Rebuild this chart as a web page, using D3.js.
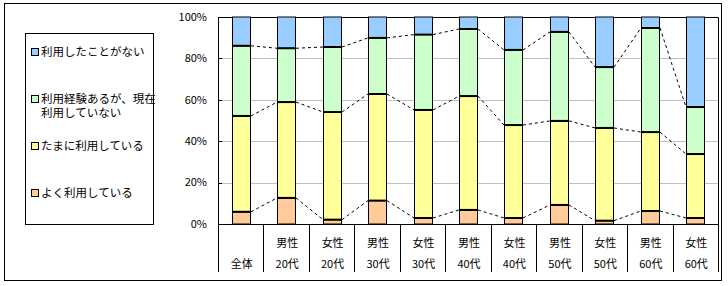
<!DOCTYPE html>
<html>
<head>
<meta charset="utf-8">
<script src="https://cdn.jsdelivr.net/npm/d3@7"></script>
<style>
  body { margin: 0; background: #fff; }
  svg { display: block; font-family: "Noto Sans CJK JP", sans-serif; }
</style>
</head>
<body>
<svg width="728" height="286"></svg>
<script>
// categories: [row1, row2]
var categories = [
  ['', '全体'], ['男性', '20代'], ['女性', '20代'], ['男性', '30代'], ['女性', '30代'],
  ['男性', '40代'], ['女性', '40代'], ['男性', '50代'], ['女性', '50代'], ['男性', '60代'], ['女性', '60代']
];
var seriesNames = ['よく利用している', 'たまに利用している', '利用経験あるが、現在利用していない', '利用したことがない'];
var often = [5.9, 12.6, 2.1, 11.3, 2.9, 6.8, 2.9, 9.2, 1.6, 6.3, 2.9];
var sometimes = [46.3, 46.3, 52.0, 51.5, 52.2, 55.0, 44.9, 40.6, 44.8, 38.1, 30.9];
var usedBefore = [33.9, 26.0, 31.4, 27.1, 36.4, 32.4, 36.3, 43.0, 29.4, 50.3, 22.7];
var never = [13.9, 15.1, 14.5, 10.1, 8.5, 5.8, 15.9, 7.2, 24.2, 5.3, 43.5];
var yTicks = [0, 20, 40, 60, 80, 100];
var colors = ['#FFCC99', '#FFFF99', '#CCFFCC', '#99CCFF'];

var svg = d3.select('svg');

// outer frame
svg.append('rect')
  .attr('x', 4.5).attr('y', 3.5).attr('width', 717).attr('height', 277)
  .attr('fill', '#fff').attr('stroke', '#000');

var plotL = 218, plotR = 718, plotT = 17, plotB = 224;

var x = d3.scaleBand()
  .domain(d3.range(categories.length))
  .range([plotL, plotR]);
var y = d3.scaleLinear().domain([0, 100]).range([plotB, plotT]);
var barW = Math.round(x.bandwidth() * 0.4);
var barX = i => Math.round(x(i) + x.bandwidth() / 2 - barW / 2);

// gridlines
svg.append('g').selectAll('line')
  .data(yTicks.filter(t => t > 0 && t < 100))
  .enter().append('line')
  .attr('x1', plotL).attr('x2', plotR)
  .attr('y1', d => Math.round(y(d)) + 0.5).attr('y2', d => Math.round(y(d)) + 0.5)
  .attr('stroke', '#c0c0c0');

// plot border top/right
svg.append('path')
  .attr('d', `M${plotL},${plotT + 0.5}H${plotR + 0.5}V${plotB}`)
  .attr('fill', 'none').attr('stroke', '#000');

// y axis labels
svg.append('g').selectAll('text')
  .data(yTicks).enter().append('text')
  .attr('x', 207).attr('y', d => y(d))
  .attr('dy', '0.35em').attr('text-anchor', 'end')
  .attr('font-size', 11)
  .text(d => d + '%');

svg.append('g').selectAll('line')
  .data(yTicks).enter().append('line')
  .attr('x1', plotL).attr('x2', plotL + 4)
  .attr('y1', d => Math.round(y(d)) + 0.5).attr('y2', d => Math.round(y(d)) + 0.5)
  .attr('stroke', '#000');

// stack
var series = [often, sometimes, usedBefore, never];
var rows = categories.map((c, i) => {
  var o = { i: i };
  series.forEach((s, k) => { o['s' + k] = s[i]; });
  return o;
});
var stacked = d3.stack().keys(['s0', 's1', 's2', 's3'])(rows);

// series lines (dashed)
stacked.slice(0, 3).forEach(layer => {
  for (var i = 0; i < layer.length - 1; i++) {
    svg.append('line')
      .attr('x1', barX(i) + barW + 1)
      .attr('y1', y(layer[i][1]))
      .attr('x2', barX(i + 1))
      .attr('y2', y(layer[i + 1][1]))
      .attr('stroke', '#000').attr('stroke-dasharray', '3,3');
  }
});

// bars
stacked.forEach((layer, k) => {
  svg.append('g').selectAll('rect')
    .data(layer).enter().append('rect')
    .attr('x', (d, i) => barX(i) + 0.5)
    .attr('y', d => y(d[1]))
    .attr('width', barW)
    .attr('height', d => y(d[0]) - y(d[1]))
    .attr('fill', colors[k])
    .attr('stroke', '#000');
});
// thicker segment boundaries
stacked.slice(0, 3).forEach(layer => {
  svg.append('g').selectAll('line')
    .data(layer).enter().append('line')
    .attr('x1', (d, i) => barX(i))
    .attr('x2', (d, i) => barX(i) + barW + 1)
    .attr('y1', d => y(d[1])).attr('y2', d => y(d[1]))
    .attr('stroke', '#000').attr('stroke-width', 2);
});

// axes lines
svg.append('line')
  .attr('x1', plotL + 0.5).attr('x2', plotL + 0.5).attr('y1', plotT).attr('y2', 272)
  .attr('stroke', '#000');
svg.append('line')
  .attr('x1', plotL).attr('x2', plotR + 1).attr('y1', plotB + 0.5).attr('y2', plotB + 0.5)
  .attr('stroke', '#000');

// category separators
svg.append('g').selectAll('line')
  .data(d3.range(1, categories.length + 1)).enter().append('line')
  .attr('x1', d => Math.round(x(d - 1) + x.bandwidth()) + 0.5)
  .attr('x2', d => Math.round(x(d - 1) + x.bandwidth()) + 0.5)
  .attr('y1', plotB).attr('y2', 272)
  .attr('stroke', '#000');

// category labels
var lab = svg.append('g').attr('font-size', 11).attr('text-anchor', 'middle');
categories.forEach((c, i) => {
  var cx = x(i) + x.bandwidth() / 2 + 1;
  lab.append('text').attr('x', cx).attr('y', 243).attr('dy', '0.35em').text(c[0]);
  lab.append('text').attr('x', cx).attr('y', 264).attr('dy', '0.35em').text(c[1]);
});

// legend
var lg = svg.append('g');
lg.append('rect')
  .attr('x', 25.5).attr('y', 33.5).attr('width', 128).attr('height', 191)
  .attr('fill', '#fff').attr('stroke', '#000');
var legendItems = [
  { k: 3, y: 52, lines: ['利用したことがない'] },
  { k: 2, y: 98.5, lines: ['利用経験あるが、現在', '利用していない'] },
  { k: 1, y: 146, lines: ['たまに利用している'] },
  { k: 0, y: 193, lines: ['よく利用している'] }
];
legendItems.forEach(it => {
  lg.append('rect')
    .attr('x', 31.5).attr('y', Math.round(it.y) - 3.5).attr('width', 7).attr('height', 7)
    .attr('fill', colors[it.k]).attr('stroke', '#000');
  it.lines.forEach((t, j) => {
    lg.append('text')
      .attr('x', 41).attr('y', it.y + j * 14).attr('dy', '0.35em')
      .attr('font-size', 11.5)
      .text(t);
  });
});
</script>
</body>
</html>
